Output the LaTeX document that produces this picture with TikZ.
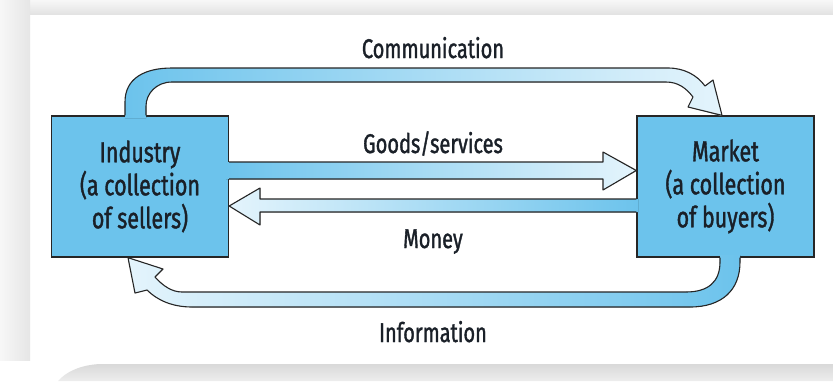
\documentclass[tikz,border=0pt]{standalone}
\usepackage{fontspec}
\setmainfont{Fira Sans}[FakeStretch=0.74, FakeBold=1.3]
\usetikzlibrary{calc}

\definecolor{boxblue}{RGB}{108,195,236}
\definecolor{paleblue}{RGB}{228,244,252}
\definecolor{inkdark}{RGB}{26,32,40}

\tikzset{
	sector/.style={draw=black!85, line width=1.3pt, fill=boxblue, minimum width=177pt, minimum height=141pt, align=center, text=inkdark, font=\fontsize{29}{33}\selectfont},
	flowlabel/.style={text=inkdark, font=\fontsize{27}{30}\selectfont, anchor=base, inner sep=0pt},
	bandline/.style={draw=black!85, line width=1.1pt, line join=round},
}

\begin{document}
\begin{tikzpicture}[x=1pt,y=-1pt]
	\useasboundingbox (0,0) rectangle (833,381);
	
	% Rahmen
	\fill[white] (0,0) rectangle (833,381);
	\shade[top color=black!3, bottom color=black!11] (0,0) rectangle (833,14);
	\shade[left color=black!3, right color=black!10] (0,0) rectangle (30,360);
	\shade[top color=black!15, bottom color=black!7] (100,364) .. controls (80,365) and (66,372) .. (58,381) -- (833,381) -- (833,364) -- cycle;
	
	% Industrie und Markt
	\node[sector] (ind) at (140,186.5) {Industry\\(a collection\\of sellers)};
	\node[sector] (mkt) at (725.5,186.5) {Market\\(a collection\\of buyers)};
	
	% Goods/services
	\fill[left color=boxblue, right color=paleblue] (226,162) -- (603,162) -- (603,152) -- (635,170.5) -- (603,190) -- (603,179) -- (226,179) -- cycle;
	\draw[bandline] (ind.east |- 0,162) -- (603,162) -- (603,152) -- (mkt.west |- 0,170.5) -- (603,190) -- (603,179) -- (ind.east |- 0,179);
	
	% Money
	\fill[left color=paleblue, right color=boxblue] (638,199) -- (260,199) -- (260,188) -- (229.5,206) -- (260,225) -- (260,212) -- (638,212) -- cycle;
	\draw[bandline] (mkt.west |- 0,199) -- (260,199) -- (260,188) -- (ind.east |- 0,206) -- (260,225) -- (260,212) -- (mkt.west |- 0,212);
	
	% Communication
	\fill[left color=boxblue, right color=paleblue] (125,118) -- (125,102) .. controls (125,78) and (145,68) .. (172,68) -- (668,68) .. controls (684,68) and (697,75) .. (705,86) -- (713,80) -- (722,116) -- (688,107) -- (693,97) .. controls (686,88) and (678,82) .. (666,82) -- (172,82) .. controls (156,82) and (146,94) .. (146,106) -- (146,118) -- cycle;
	\draw[bandline] (ind.north -| 125,0) -- (125,102) .. controls (125,78) and (145,68) .. (172,68) -- (668,68) .. controls (684,68) and (697,75) .. (705,86) -- (713,80) -- (mkt.north -| 722,0) -- (688,107) -- (693,97) .. controls (686,88) and (678,82) .. (666,82) -- (172,82) .. controls (156,82) and (146,94) .. (146,106) -- (ind.north -| 146,0);
	
	% Information
	\fill[left color=paleblue, right color=boxblue] (720,255) -- (720,262) .. controls (720,282) and (708,292) .. (686,292) -- (182,292) .. controls (172,292) and (163,286) .. (155,277) -- (163,269) -- (128,258) -- (135,293) -- (147,290) .. controls (157,300) and (172,307) .. (192,307) -- (690,307) .. controls (722,307) and (740,290) .. (740,262) -- (740,255) -- cycle;
	\draw[bandline] (mkt.south -| 720,0) -- (720,262) .. controls (720,282) and (708,292) .. (686,292) -- (182,292) .. controls (172,292) and (163,286) .. (155,277) -- (163,269) -- (ind.south -| 128,0) -- (135,293) -- (147,290) .. controls (157,300) and (172,307) .. (192,307) -- (690,307) .. controls (722,307) and (740,290) .. (740,262) -- (mkt.south -| 740,0);
	
	% Beschriftungen
	\node[flowlabel] (comm) at (433,58) {Communication};
	\node[flowlabel] (goods) at (433,153) {Goods/services};
	\node[flowlabel] (money) at (433,248) {Money};
	\node[flowlabel] (info) at (433,342) {Information};
\end{tikzpicture}
\end{document}
